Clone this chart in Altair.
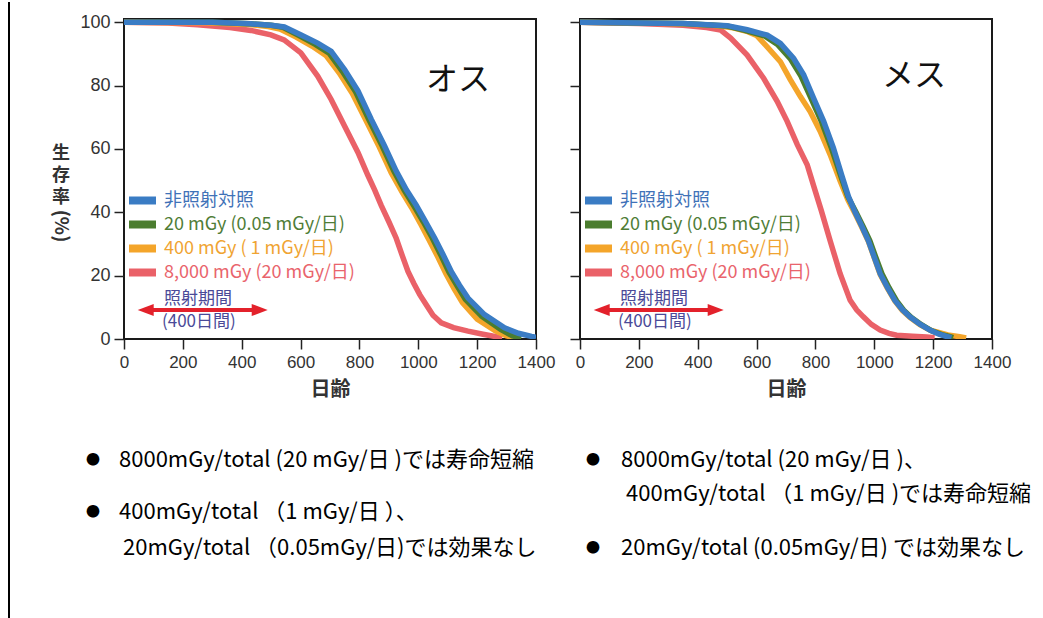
import altair as alt
import pandas as pd

# ---------------- data ----------------
series_names = ["非照射対照", "20 mGy (0.05 mGy/日)", "400 mGy ( 1  mGy/日)", "8,000 mGy (20 mGy/日)"]
series_colors = ["#3a7cc4", "#4b7d2f", "#f4a52a", "#ea6168"]
label_colors = ["#3f72b8", "#4f7d37", "#f0a432", "#e9646c"]

# male (オス)
male_ctrl_day = [0, 300, 430, 500, 545, 600, 658, 704, 750, 795, 840, 885, 925, 960, 993, 1025, 1056, 1085, 1112, 1140, 1169, 1225, 1293, 1340, 1385, 1400]
male_ctrl_surv = [100, 100, 99.5, 99, 98.5, 96, 93.4, 90.8, 85, 78.3, 69.4, 61, 53, 47, 42.2, 37, 31.8, 26.5, 21.3, 17, 12.9, 7.7, 3.5, 1.8, 0.8, 0.5]
male_20_day = [0, 300, 430, 500, 540, 595, 650, 697, 742, 787, 832, 877, 917, 952, 985, 1017, 1048, 1077, 1104, 1132, 1160, 1215, 1280, 1320, 1350]
male_20_surv = [100, 100, 99.5, 99, 98.4, 95.8, 93, 90.2, 84.5, 78, 69.3, 61, 53, 47, 42, 37, 31.8, 26.4, 21.2, 16.8, 12.5, 7.2, 3, 1, 0.3]
male_400_day = [0, 280, 420, 490, 530, 585, 640, 686, 731, 776, 822, 868, 908, 944, 977, 1008, 1038, 1067, 1094, 1122, 1150, 1200, 1262, 1300, 1325]
male_400_surv = [100, 99.8, 99.3, 98.6, 97.8, 95.3, 92.4, 89.5, 84, 77.5, 69, 60.5, 52.5, 46.5, 41.5, 36.3, 31, 25.8, 20.6, 15.8, 11.5, 6.3, 2.6, 1, 0.3]
male_8000_day = [0, 150, 250, 360, 431, 499, 544, 601, 658, 704, 749, 795, 829, 852, 874, 900, 925, 945, 965, 985, 1005, 1027, 1050, 1078, 1120, 1169, 1220, 1260, 1285]
male_8000_surv = [100, 99.7, 99.2, 98.3, 97.4, 96, 94.4, 90.3, 83, 75.6, 67.3, 58.9, 51.6, 47, 42.2, 37, 31.8, 26.5, 21.3, 17.5, 14, 10.8, 7.5, 5.1, 3.6, 2.5, 1.5, 0.8, 0.3]

# female (メス)
fem_ctrl_day = [0, 350, 500, 568, 636, 681, 726, 760, 794, 828, 861, 890, 912, 935, 958, 980, 1000, 1020, 1045, 1070, 1095, 1121, 1155, 1189, 1220, 1245, 1262]
fem_ctrl_surv = [100, 99.6, 98.9, 97.6, 95.9, 93.3, 88.6, 83.4, 76, 68.7, 60.3, 51.5, 45, 40, 35.5, 31, 25.8, 20.6, 16.2, 12.2, 9.3, 7, 4.7, 2.8, 1.5, 0.8, 0.4]
fem_20_day = [0, 350, 500, 560, 626, 671, 716, 751, 786, 821, 855, 886, 910, 938, 962, 985, 1005, 1026, 1050, 1076, 1100, 1126, 1160, 1195, 1230, 1255, 1268]
fem_20_surv = [100, 99.6, 98.8, 97.4, 95.7, 93, 88.3, 83, 75.8, 68.5, 60.1, 51.5, 45, 40, 35.5, 31, 25.8, 20.6, 16.2, 12, 9.1, 6.8, 4.5, 2.6, 1.4, 0.8, 0.4]
fem_400_day = [0, 300, 450, 520, 570, 600, 636, 681, 715, 749, 782, 816, 850, 884, 910, 935, 958, 980, 1000, 1020, 1045, 1070, 1095, 1121, 1155, 1190, 1250, 1290, 1312]
fem_400_surv = [100, 99.6, 99, 98.2, 97, 95.8, 92.2, 87.5, 81.8, 76.5, 71.8, 65.6, 58.2, 49.9, 44, 39.5, 35.2, 30.8, 25.6, 20.4, 16, 12, 9, 6.8, 4.5, 2.8, 1.3, 0.7, 0.3]
fem_8000_day = [0, 200, 350, 430, 478, 512, 568, 624, 670, 704, 738, 772, 795, 820, 850, 884, 918, 940, 963, 990, 1020, 1050, 1076, 1130, 1178, 1205]
fem_8000_surv = [100, 99.6, 99, 98.3, 97.5, 95, 89.6, 82.3, 75, 68.7, 61.4, 55, 48, 40.5, 31, 20.6, 12.2, 9.2, 7, 4.6, 2.8, 1.8, 1.2, 0.9, 0.6, 0.4]

x_ticks = [0, 200, 400, 600, 800, 1000, 1200, 1400]
y_ticks = [0, 20, 40, 60, 80, 100]
panel_titles = ["オス", "メス"]
x_title = "日齢"
y_title_chars = ["生", "存", "率"]
y_title_unit = "(%)"
period_label = ["照射期間", "(400日間)"]
left_notes = ["8000mGy/total (20 mGy/日 )では寿命短縮",
              "400mGy/total （1 mGy/日 ）、",
              "20mGy/total （0.05mGy/日)では効果なし"]
right_notes = ["8000mGy/total (20 mGy/日 )、",
               "400mGy/total （1 mGy/日 )では寿命短縮",
               "20mGy/total (0.05mGy/日) では効果なし"]

# ---------------- layout / style ----------------
W, H = 412, 320
YMAX = 101
JP = "Noto Sans CJK JP"
LAT = "Liberation Sans"
ARROW_RED = "#e3212b"
PERIOD_COLOR = "#4b4a98"

xs = alt.Scale(domain=[0, 1400], nice=False, zero=False)
ys = alt.Scale(domain=[0, YMAX], nice=False, zero=False)
one = pd.DataFrame({"k": [0]})


def txt(text, x, y, size=18, color="#000", align="left", baseline="middle", weight="normal",
        font=JP, angle=0, line_height=None):
    kw = {}
    if line_height is not None:
        kw["lineHeight"] = line_height
    return alt.Chart(one).mark_text(text=text, fontSize=size, color=color, align=align,
                                    baseline=baseline, fontWeight=weight, font=font,
                                    angle=angle, **kw).encode(x=alt.value(x), y=alt.value(y))


def hrule(x1, x2, y, color, w):
    return alt.Chart(one).mark_rule(color=color, strokeWidth=w, strokeCap="butt").encode(
        x=alt.value(x1), x2=alt.value(x2), y=alt.value(y))


def head(x, y, pointing_left):
    path = "M-1,0L1,-0.75L1,0.75Z" if pointing_left else "M1,0L-1,-0.75L-1,0.75Z"
    return alt.Chart(one).mark_point(shape=path, size=256, filled=True, color=ARROW_RED,
                                     opacity=1, strokeWidth=0).encode(x=alt.value(x), y=alt.value(y))


def panel(series, title, left, title_y):
    xa = alt.Axis(values=x_ticks, format="d", title=x_title, grid=False, domain=False, tickSize=10,
                  tickWidth=1.5, tickColor="#222", labelFont=LAT, labelFontSize=17,
                  labelColor="#333", labelPadding=5, labelFlush=False, labelOverlap=False,
                  titleFont=JP, titleFontSize=20, titleFontWeight="bold", titleColor="#333",
                  titlePadding=9)
    ya = alt.Axis(values=y_ticks, format="d", title=None, grid=False, domain=False, tickSize=10,
                  tickWidth=1.5, tickColor="#222", labels=left, labelFont=LAT,
                  labelFontSize=18, labelColor="#333", labelPadding=4)
    layers = []
    # draw red first, blue last (on top)
    for (d, s), col in reversed(list(zip(series, series_colors))):
        df = pd.DataFrame({"day": d, "surv": s})
        layers.append(alt.Chart(df).mark_line(color=col, strokeWidth=5.5, clip=True).encode(
            x=alt.X("day:Q", scale=xs, axis=xa),
            y=alt.Y("surv:Q", scale=ys, axis=ya)))
    # in-plot legend
    for i, (name, col, lcol) in enumerate(zip(series_names, series_colors, label_colors)):
        yy = 181.5 + 24 * i
        layers.append(hrule(5, 32, yy, col, 8))
        layers.append(txt(name, 40, yy, size=18, color=lcol))
    # irradiation period annotation
    layers.append(txt(period_label[0], 40, 280, size=17, color=PERIOD_COLOR))
    layers.append(txt(period_label[1], 38, 303, size=17, color=PERIOD_COLOR))
    layers.append(hrule(21.7, 135.7, 291, ARROW_RED, 4))
    layers.append(head(21.7, 291, True))
    layers.append(head(135.7, 291, False))
    # sex label
    layers.append(txt(title, 334, title_y, size=32, color="#111", align="center"))
    if left:
        # y axis title (vertical, one multi-line text)
        layers.append(txt(y_title_chars, -63, 125.5, size=18, color="#333", align="center",
                          baseline="top", weight="bold", line_height=22))
        layers.append(txt(y_title_unit, -63, 207, size=19, color="#333", align="center",
                          weight="bold", angle=90))
        # frame line at the far left of the picture
        layers.append(alt.Chart(one).mark_rule(color="#000", strokeWidth=2, strokeCap="butt").encode(
            x=alt.value(-115), y=alt.value(-17), y2=alt.value(600)))
        # notes below
        layers.append(txt("●", -31, 441, size=14, color="#000", align="center"))
        layers.append(txt(left_notes[0], -5, 441, size=22, color="#000"))
        layers.append(txt("●", -31, 493, size=14, color="#000", align="center"))
        layers.append(txt(left_notes[1], -5, 493, size=22, color="#000"))
        layers.append(txt(left_notes[2], -1, 529, size=22, color="#000"))
    else:
        layers.append(txt("●", 13, 441, size=14, color="#000", align="center"))
        layers.append(txt(right_notes[0], 41, 441, size=22, color="#000"))
        layers.append(txt(right_notes[1], 46, 475, size=22, color="#000"))
        layers.append(txt("●", 13, 529, size=14, color="#000", align="center"))
        layers.append(txt(right_notes[2], 41, 529, size=22, color="#000"))
    return alt.layer(*layers).properties(width=W, height=H)


male = [(male_ctrl_day, male_ctrl_surv), (male_20_day, male_20_surv),
        (male_400_day, male_400_surv), (male_8000_day, male_8000_surv)]
female = [(fem_ctrl_day, fem_ctrl_surv), (fem_20_day, fem_20_surv),
          (fem_400_day, fem_400_surv), (fem_8000_day, fem_8000_surv)]

left_panel = panel(male, panel_titles[0], True, 61)
right_panel = panel(female, panel_titles[1], False, 57)

chart = alt.hconcat(left_panel, right_panel, spacing=44, bounds="flush").properties(
    padding={"left": 7, "top": 0, "right": 0, "bottom": 0},
    background="#ffffff",
).configure_view(stroke="#1a1a1a", strokeWidth=2)

chart.save("out.html", embed_options={"renderer": "svg", "actions": False})
